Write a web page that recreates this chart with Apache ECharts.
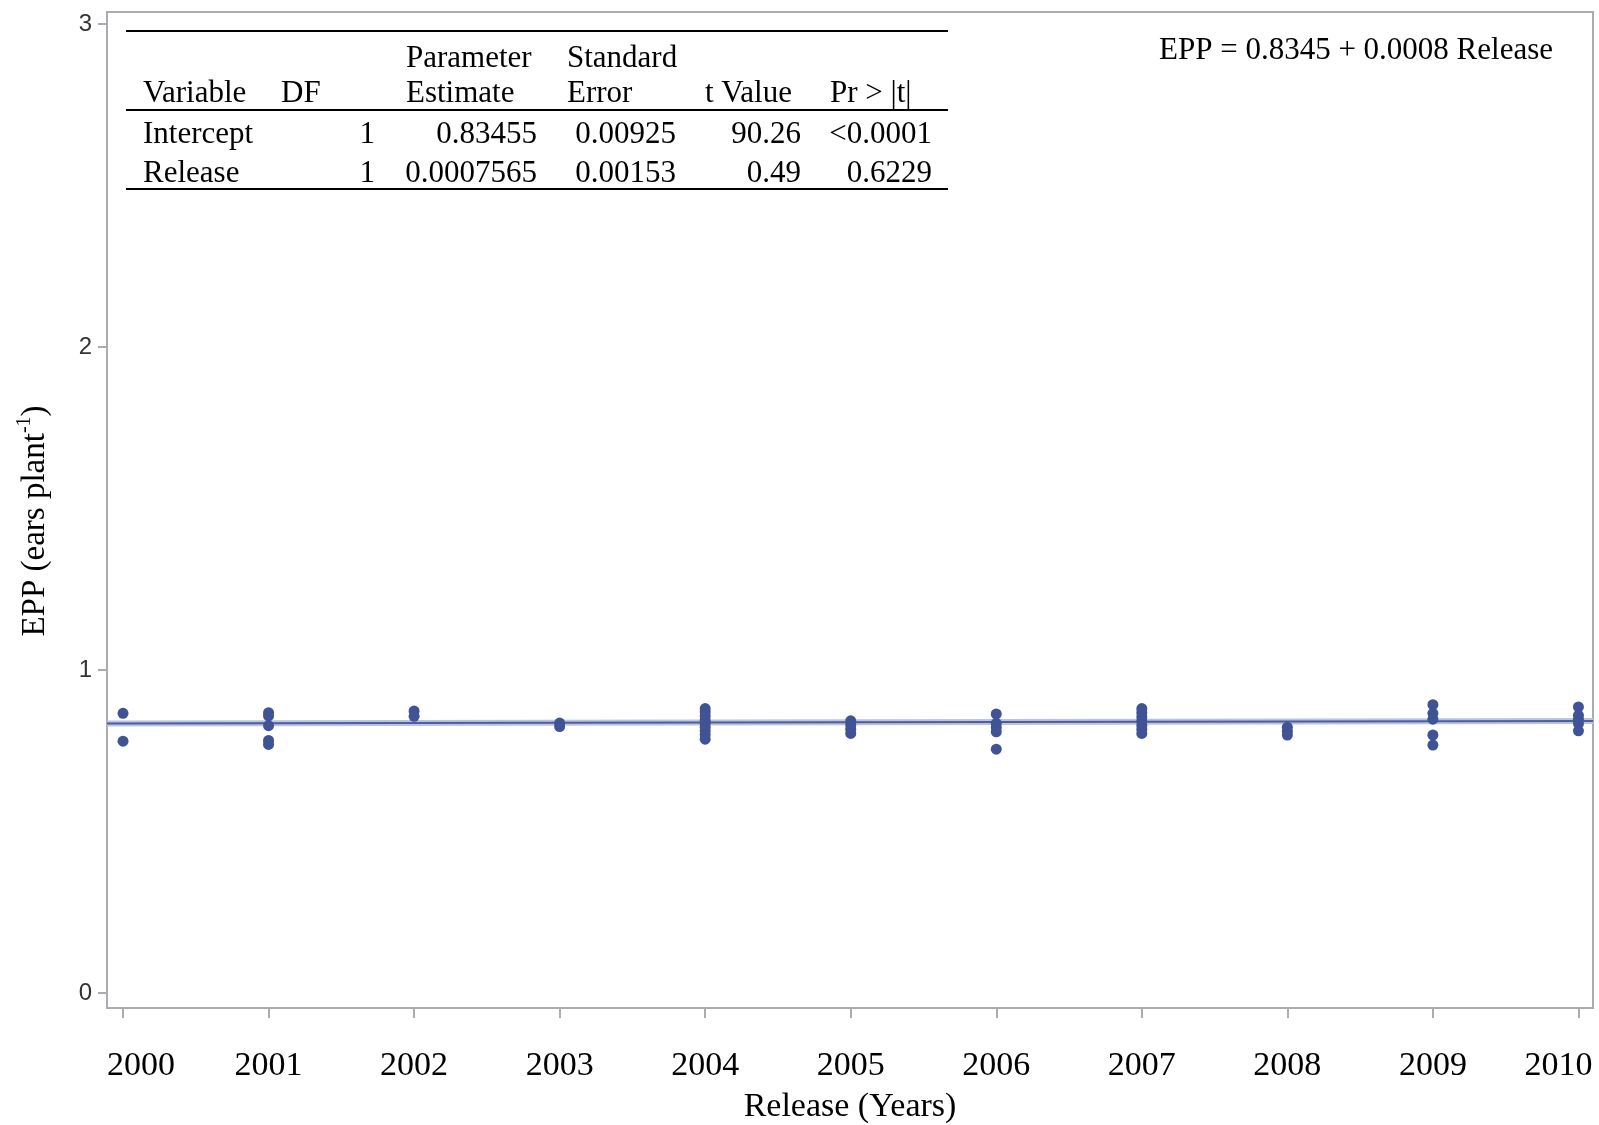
<!DOCTYPE html>
<html>
<head>
<meta charset="utf-8">
<script src="https://cdn.jsdelivr.net/npm/echarts@6/dist/echarts.min.js"></script>
<style>
  html, body { margin: 0; padding: 0; background: #fff; }
  #chart { width: 1599px; height: 1125px; }
</style>
</head>
<body>
<div id="chart"></div>
<script>
// Ears per plant (EPP) by hybrid release year
const releaseYears = [2000, 2001, 2002, 2003, 2004, 2005, 2006, 2007, 2008, 2009, 2010];
const eppByYear = [
  [0.866, 0.780],
  [0.868, 0.858, 0.828, 0.782, 0.770],
  [0.873, 0.857],
  [0.836, 0.825],
  [0.881, 0.870, 0.858, 0.845, 0.835, 0.823, 0.812, 0.800, 0.786],
  [0.843, 0.830, 0.817, 0.804],
  [0.864, 0.835, 0.822, 0.809, 0.755],
  [0.881, 0.868, 0.855, 0.842, 0.829, 0.817, 0.804],
  [0.823, 0.811, 0.799],
  [0.893, 0.866, 0.848, 0.799, 0.768],
  [0.886, 0.860, 0.848, 0.835, 0.812]
];
const yTicks = [0, 1, 2, 3];

// Linear fit: EPP = intercept + slope * Release (Release coded 0..10 from 2000)
const fitIntercept = 0.83455;
const fitSlope = 0.0007565;
const equationText = 'EPP = 0.8345 + 0.0008 Release';

// Parameter estimates table
const tableHeaderTop = ['', '', 'Parameter', 'Standard', '', ''];
const tableHeaderBottom = ['Variable', 'DF', 'Estimate', 'Error', 't Value', 'Pr > |t|'];
const tableRows = [
  ['Intercept', '1', '0.83455', '0.00925', '90.26', '<0.0001'],
  ['Release', '1', '0.0007565', '0.00153', '0.49', '0.6229']
];

const xMin = 1999.89, xMax = 2010.10;
const yMin = -0.046, yMax = 3.037;

const points = [];
releaseYears.forEach((yr, i) => eppByYear[i].forEach(v => points.push([yr, v])));
const fitAt = x => fitIntercept + fitSlope * (x - releaseYears[0]);
const fitLine = [[xMin, fitAt(xMin)], [xMax, fitAt(xMax)]];

const serif = '"Liberation Serif", "Times New Roman", serif';
const sans = '"Liberation Sans", Arial, sans-serif';
const axisGray = '#a9adb2';

// Table layout: column anchors (x) and alignment
const headColX = [143, 281, 406, 567, 705, 830];
const bodyColX = [143, 375, 537, 676, 801, 932];
const bodyAlign = ['left', 'right', 'right', 'right', 'right', 'right'];

function txt(text, x, y, align, size) {
  return {
    type: 'text',
    style: {
      text: text, x: x, y: y,
      font: (size || 31) + 'px ' + serif,
      fill: '#000',
      align: align, textAlign: align,
      verticalAlign: 'middle', textVerticalAlign: 'middle'
    },
    z: 10
  };
}
function hline(x1, x2, y) {
  return {
    type: 'line',
    shape: { x1: x1, y1: y, x2: x2, y2: y },
    style: { stroke: '#000', lineWidth: 2 },
    z: 10
  };
}

const graphics = [];
graphics.push(hline(126, 948, 31));
graphics.push(hline(126, 948, 110));
graphics.push(hline(126, 948, 189));
tableHeaderTop.forEach((t, i) => { if (t) graphics.push(txt(t, headColX[i], 59, 'left')); });
tableHeaderBottom.forEach((t, i) => graphics.push(txt(t, headColX[i], 94, 'left')));
tableRows.forEach((row, r) => {
  row.forEach((t, i) => graphics.push(txt(t, bodyColX[i], 135 + r * 39, bodyAlign[i])));
});
graphics.push(txt(equationText, 1553, 51, 'right', 31));

const chart = echarts.init(document.getElementById('chart'), null, { renderer: 'canvas' });
chart.setOption({
  animation: false,
  backgroundColor: '#fff',
  grid: {
    left: 107, right: 6, top: 12, bottom: 117,
    outerBoundsMode: 'none',
    containLabel: false,
    show: true, borderColor: axisGray, borderWidth: 2, backgroundColor: 'transparent'
  },
  xAxis: {
    type: 'value',
    min: xMin, max: xMax,
    name: 'Release (Years)',
    nameLocation: 'middle',
    nameGap: 82,
    nameTextStyle: { fontFamily: serif, fontSize: 34, color: '#000' },
    axisLine: { show: true, onZero: false, lineStyle: { color: axisGray, width: 2 } },
    axisTick: { show: true, length: 10, lineStyle: { color: axisGray, width: 2 }, customValues: releaseYears },
    axisLabel: {
      customValues: releaseYears,
      margin: 41,
      fontFamily: serif, fontSize: 34, color: '#000',
      formatter: v => {
        const s = String(Math.round(v));
        if (v === releaseYears[0]) return '{l|' + s + '}';
        if (v === releaseYears[releaseYears.length - 1]) return '{r|' + s + '}';
        return s;
      },
      rich: {
        l: { fontFamily: serif, fontSize: 34, color: '#000', padding: [0, 0, 0, 36] },
        r: { fontFamily: serif, fontSize: 34, color: '#000', padding: [0, 40, 0, 0] }
      }
    },
    splitLine: { show: false }
  },
  yAxis: {
    type: 'value',
    min: yMin, max: yMax,
    name: '{a|EPP (ears plant}{s|-1}{a|)}',
    nameLocation: 'middle',
    nameGap: 52,
    nameRotate: 90,
    nameTextStyle: {
      fontFamily: serif, fontSize: 33, color: '#000',
      padding: [0, 22, 0, 0],
      rich: {
        a: { fontFamily: serif, fontSize: 33, color: '#000', lineHeight: 40 },
        s: { fontFamily: serif, fontSize: 20, color: '#000', lineHeight: 40, verticalAlign: 'top', padding: [0, 0, 14, 0] }
      }
    },
    axisLine: { show: true, onZero: false, lineStyle: { color: axisGray, width: 2 } },
    axisTick: { show: true, length: 9, lineStyle: { color: axisGray, width: 2 }, customValues: yTicks },
    axisLabel: {
      customValues: yTicks,
      margin: 15,
      fontFamily: sans, fontSize: 24, color: '#333'
    },
    splitLine: { show: false }
  },
  series: [
    {
      type: 'line', data: fitLine, symbol: 'none', silent: true,
      lineStyle: { color: '#bcc3df', width: 6 }, z: 1
    },
    {
      type: 'line', data: fitLine, symbol: 'none', silent: true,
      lineStyle: { color: '#4b5e9f', width: 2 }, z: 2
    },
    {
      type: 'scatter', data: points, symbol: 'circle', symbolSize: 11,
      itemStyle: { color: '#3f5395', opacity: 1 }, z: 3
    }
  ],
  graphic: graphics
});
</script>
</body>
</html>
